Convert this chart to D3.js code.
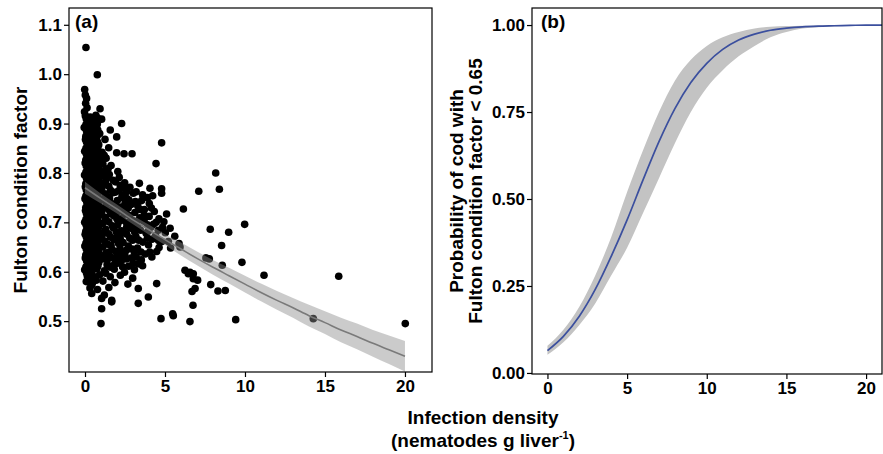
<!DOCTYPE html>
<html>
<head>
<meta charset="utf-8">
<script src="https://cdn.jsdelivr.net/npm/d3@7"></script>
<style>
  body { margin: 0; background: #fff; }
  svg { display: block; font-family: "Liberation Sans", Arial, sans-serif; font-weight: bold; }
</style>
</head>
<body>
<svg id="chart" width="883" height="454"></svg>
<script>
// Fish: [infection density, Fulton condition factor]
const fish = [
  [0.06,1.054],[0.77,0.999],[-0.02,0.969],[0.02,0.958],[0.1,0.951],[0.04,0.941],[0.13,0.932],[0.94,0.930],[-0.03,0.924],
  [0.02,0.916],[0.33,0.913],[0.68,0.917],[1.04,0.909],
  [0.16,0.904],[0.52,0.901],[0.83,0.906],[2.29,0.900],
  [-0.05,0.892],[0.37,0.889],[0.72,0.893],[1.58,0.887],
  [0.14,0.881],[0.49,0.877],[0.92,0.880],
  [0.03,0.868],[0.33,0.865],[0.69,0.870],[1.25,0.868],[1.98,0.873],[4.79,0.861],
  [0.17,0.856],[0.52,0.853],[0.86,0.857],[1.48,0.851],
  [-0.02,0.844],[0.36,0.841],[0.71,0.846],[1.07,0.842],[1.98,0.841],[2.44,0.839],[2.94,0.839],
  [0.15,0.832],[0.48,0.829],[0.84,0.834],[1.32,0.830],
  [0.01,0.820],[0.34,0.817],[0.72,0.822],[1.12,0.818],[1.63,0.815],[4.44,0.819],
  [0.18,0.808],[0.51,0.805],[0.87,0.810],[1.28,0.806],[2.05,0.803],[8.17,0.800],
  [-0.03,0.796],[0.35,0.793],[0.69,0.798],[1.04,0.794],[1.52,0.797],[2.14,0.791],
  [0.14,0.784],[0.49,0.781],[0.86,0.786],[1.27,0.782],[1.76,0.785],[2.48,0.780],[3.40,0.779],
  [0.02,0.772],[0.37,0.769],[0.7,0.774],[1.06,0.770],[1.49,0.773],[2.81,0.771],[4.06,0.769],[4.79,0.768],[7.11,0.763],[8.40,0.767],
  [0.16,0.760],[0.5,0.757],[0.83,0.762],[1.24,0.758],[1.88,0.761],[2.33,0.756],[3.02,0.759],[4.23,0.754],[4.79,0.759],
  [0.0,0.748],[0.34,0.745],[0.71,0.750],[1.09,0.746],[1.53,0.749],[2.02,0.744],[2.62,0.748],[3.54,0.744],
  [0.15,0.736],[0.52,0.733],[0.85,0.738],[1.31,0.734],[1.74,0.737],[2.24,0.731],[2.88,0.736],[3.3,0.733],[4.02,0.738],
  [0.03,0.724],[0.36,0.721],[0.68,0.726],[1.05,0.722],[1.51,0.725],[1.97,0.719],[2.52,0.724],[3.12,0.720],[3.71,0.726],[4.33,0.722],[6.15,0.727],
  [0.17,0.712],[0.49,0.709],[0.86,0.714],[1.26,0.710],[1.82,0.713],[2.31,0.708],[2.79,0.714],[3.42,0.709],[4.01,0.712],[4.62,0.707],[5.10,0.717],
  [-0.02,0.700],[0.35,0.697],[0.72,0.702],[1.11,0.698],[1.49,0.701],[2.04,0.695],[2.58,0.700],[3.14,0.697],[3.69,0.702],[4.28,0.696],[4.93,0.701],[7.83,0.686],[8.98,0.680],[9.98,0.696],
  [0.14,0.688],[0.51,0.685],[0.84,0.690],[1.29,0.686],[1.77,0.689],[2.27,0.683],[2.83,0.688],[3.47,0.684],[4.12,0.690],[4.58,0.684],[5.32,0.688],
  [0.01,0.676],[0.33,0.673],[0.7,0.678],[1.07,0.674],[1.48,0.677],[2.02,0.671],[2.61,0.676],[3.18,0.672],[3.82,0.678],[4.41,0.673],[5.02,0.679],[5.61,0.672],
  [0.16,0.664],[0.48,0.661],[0.87,0.666],[1.23,0.662],[1.81,0.665],[2.38,0.659],[2.97,0.664],[3.62,0.660],[4.19,0.666],[5.21,0.661],[5.88,0.657],[8.54,0.653],
  [-0.01,0.652],[0.37,0.649],[0.69,0.654],[1.12,0.650],[1.63,0.653],[2.19,0.647],[2.71,0.652],[3.28,0.648],[3.97,0.654],[4.63,0.649],[5.35,0.648],[5.94,0.650],
  [0.15,0.640],[0.52,0.637],[0.85,0.642],[1.31,0.638],[1.92,0.641],[2.49,0.635],[3.08,0.640],[3.77,0.636],[4.48,0.641],
  [0.02,0.628],[0.34,0.625],[0.71,0.630],[1.09,0.626],[1.62,0.629],[2.28,0.623],[2.91,0.628],[3.52,0.624],[4.18,0.630],[7.56,0.628],[7.77,0.626],
  [0.17,0.616],[0.5,0.613],[0.86,0.618],[1.38,0.614],[2.01,0.617],[2.72,0.611],[3.31,0.616],[8.58,0.613],[9.81,0.619],
  [-0.02,0.604],[0.36,0.601],[0.73,0.606],[1.21,0.602],[1.83,0.605],[2.47,0.599],[3.09,0.604],[6.25,0.603],[6.46,0.596],[6.77,0.596],[6.56,0.599],[11.19,0.593],[15.86,0.591],
  [0.14,0.592],[0.52,0.589],[0.91,0.594],[1.58,0.590],[2.21,0.593],[2.98,0.587],[6.77,0.586],[7.04,0.583],
  [0.08,0.580],[0.46,0.577],[1.12,0.581],[1.87,0.578],[2.68,0.575],[4.48,0.576],[7.86,0.574],[0.42,0.573],
  [0.31,0.567],[0.78,0.564],[1.49,0.568],[3.33,0.566],[6.88,0.566],[6.69,0.560],[8.31,0.561],[8.77,0.562],
  [0.42,0.556],[1.21,0.553],[3.96,0.549],[1.04,0.546],[1.67,0.542],[3.33,0.536],[1.67,0.539],[6.75,0.532],[1.04,0.525],
  [5.48,0.515],[5.52,0.511],[4.75,0.505],[1.0,0.495],[6.56,0.499],[9.42,0.503],[14.27,0.505],[20.02,0.495],
  // second pass over the dense low-infection cloud
  [0.08,0.910],[0.45,0.907],[0.79,0.911],
  [0.06,0.898],[0.41,0.895],[0.77,0.899],
  [0.09,0.886],[0.44,0.883],[0.8,0.887],
  [0.05,0.874],[0.4,0.871],[0.76,0.875],
  [0.1,0.862],[0.43,0.859],[0.78,0.863],
  [0.06,0.850],[0.41,0.847],[0.8,0.851],
  [0.09,0.838],[0.44,0.835],[0.77,0.839],[1.2,0.836],
  [0.05,0.826],[0.42,0.823],[0.79,0.827],[1.05,0.825],
  [0.08,0.814],[0.45,0.811],[0.81,0.815],[1.45,0.809],
  [0.06,0.802],[0.4,0.799],[0.76,0.803],[1.15,0.800],
  [0.09,0.790],[0.43,0.787],[0.78,0.791],[1.35,0.789],[1.9,0.782],
  [0.05,0.778],[0.41,0.775],[0.8,0.779],[1.15,0.776],[2.2,0.775],
  [0.08,0.766],[0.44,0.763],[0.77,0.767],[1.6,0.765],[2.6,0.762],
  [0.06,0.754],[0.42,0.751],[0.79,0.755],[1.38,0.752],[2.3,0.750],
  [0.1,0.742],[0.45,0.739],[0.81,0.743],[1.55,0.741],[2.5,0.738],
  [0.05,0.730],[0.4,0.727],[0.78,0.731],[1.2,0.729],[2.0,0.731],[2.7,0.729],
  [0.09,0.718],[0.43,0.715],[0.76,0.719],[1.6,0.717],[2.6,0.717],[3.7,0.715],
  [0.06,0.706],[0.41,0.703],[0.8,0.707],[1.3,0.705],[2.2,0.703],[3.3,0.703],
  [0.08,0.694],[0.44,0.691],[0.78,0.695],[1.7,0.693],[2.9,0.692],[3.9,0.695],
  [0.05,0.682],[0.42,0.679],[0.79,0.683],[1.2,0.681],[2.4,0.679],[3.1,0.681],
  [0.09,0.670],[0.45,0.667],[0.77,0.671],[1.6,0.670],[2.8,0.668],[4.6,0.663],
  [0.06,0.658],[0.41,0.655],[0.8,0.659],[1.4,0.656],[2.1,0.657],
  [0.08,0.646],[0.43,0.643],[0.78,0.647],[1.7,0.645],[2.6,0.644],
  [0.05,0.634],[0.4,0.631],[0.79,0.635],[1.2,0.633],[2.0,0.632],
  [0.1,0.622],[0.44,0.619],[0.77,0.623],[1.9,0.621],
  [0.06,0.610],[0.42,0.607],[0.8,0.611],[1.6,0.609],
  [0.09,0.598],[0.45,0.595],[1.3,0.597],
  [0.25,0.586],[0.7,0.583],
  // fill between 1.5 and 5 nematodes per gram
  [1.75,0.760],[2.1,0.764],[2.45,0.770],[3.2,0.762],[3.6,0.756],[2.75,0.745],[3.15,0.742],[3.9,0.750],
  [1.85,0.726],[2.35,0.722],[3.45,0.726],[4.15,0.729],[2.0,0.707],[2.95,0.704],[3.7,0.708],[4.45,0.700],
  [1.95,0.681],[2.6,0.690],[3.3,0.690],[3.95,0.682],[4.85,0.690],[2.2,0.668],[3.35,0.664],[3.9,0.668],
  [4.8,0.661],[1.5,0.640],[2.25,0.637],[2.95,0.646],[3.5,0.640],[4.05,0.640],[1.4,0.625],[2.6,0.626],
  [3.2,0.630],[1.7,0.612],[2.35,0.610],[3.0,0.617],[3.6,0.612]
];

// Fitted condition curve and its confidence band, panel (a)
const fitX = [0,1,2,3,4,5,6,7,8,9,10,11,12,13,14,15,16,17,18,19,20];
const fitCond = [0.770,0.748,0.727,0.705,0.685,0.665,0.646,0.627,0.609,0.592,0.575,0.558,0.542,0.527,0.511,0.497,0.482,0.469,0.455,0.442,0.429];
const fitLow = [0.758,0.738,0.718,0.696,0.675,0.654,0.633,0.613,0.594,0.576,0.558,0.540,0.523,0.507,0.489,0.474,0.457,0.443,0.428,0.413,0.398];
const fitHigh = [0.782,0.758,0.736,0.714,0.695,0.676,0.659,0.641,0.624,0.608,0.592,0.576,0.561,0.547,0.533,0.520,0.507,0.495,0.482,0.471,0.460];

// Probability of low condition, panel (b)
const probX = [0,1,2,3,4,5,6,7,8,9,10,11,12,13,14,15,16,17,18,19,20,21];
const prob = [0.064,0.105,0.163,0.240,0.335,0.440,0.555,0.665,0.760,0.835,0.890,0.930,0.957,0.974,0.985,0.991,0.995,0.997,0.998,0.999,1.000,1.000];
const probLow = [0.052,0.088,0.138,0.200,0.280,0.360,0.460,0.560,0.660,0.750,0.820,0.870,0.910,0.940,0.965,0.980,0.990,0.994,0.996,0.998,0.999,1.000];
const probHigh = [0.078,0.124,0.190,0.280,0.390,0.520,0.640,0.750,0.840,0.900,0.940,0.965,0.980,0.990,0.995,0.997,0.998,0.999,1.000,1.000,1.000,1.000];

const condTicks = [0.5, 0.6, 0.7, 0.8, 0.9, 1.0, 1.1];
const probTicks = [0, 0.25, 0.5, 0.75, 1];
const densTicks = [0, 5, 10, 15, 20];

const svg = d3.select("#chart");

// Style an axis group the way the figure does
const styleAxis = (g) => {
  g.select(".domain").remove();
  g.selectAll(".tick line").attr("stroke", "#000").attr("stroke-width", 1.2);
  g.selectAll(".tick text")
    .attr("fill", "#000")
    .attr("font-size", 17)
    .attr("font-family", null)
    .attr("font-weight", "bold");
};

// ---- Panel (a) ----
const a = { left: 69, right: 432, top: 8, bottom: 372 };
const xa = d3.scaleLinear().domain([-1, 21.69]).range([a.left, a.right]);
const ya = d3.scaleLinear().domain([0.397, 1.134]).range([a.bottom, a.top]);

svg.append("clipPath").attr("id", "clipA")
  .append("rect")
  .attr("x", a.left).attr("y", a.top)
  .attr("width", a.right - a.left).attr("height", a.bottom - a.top);

const gA = svg.append("g").attr("clip-path", "url(#clipA)");

gA.selectAll("circle")
  .data(fish)
  .join("circle")
  .attr("cx", (d) => xa(d[0]))
  .attr("cy", (d) => ya(d[1]))
  .attr("r", 3.8)
  .attr("fill", "#000");

const bandA = d3.area()
  .x((d, i) => xa(fitX[i]))
  .y0((d, i) => ya(fitLow[i]))
  .y1((d, i) => ya(fitHigh[i]))
  .curve(d3.curveMonotoneX);

gA.append("path")
  .attr("d", bandA(fitX))
  .attr("fill", "#8c8c8c")
  .attr("fill-opacity", 0.45);

const lineA = d3.line()
  .x((d, i) => xa(fitX[i]))
  .y((d, i) => ya(fitCond[i]))
  .curve(d3.curveMonotoneX);

gA.append("path")
  .attr("d", lineA(fitX))
  .attr("fill", "none")
  .attr("stroke", "#7a7a7a")
  .attr("stroke-width", 1.6);

svg.append("rect")
  .attr("x", a.left).attr("y", a.top)
  .attr("width", a.right - a.left).attr("height", a.bottom - a.top)
  .attr("fill", "none").attr("stroke", "#000").attr("stroke-width", 1.2);

svg.append("g")
  .attr("transform", `translate(${a.left},0)`)
  .call(d3.axisLeft(ya).tickValues(condTicks).tickFormat(d3.format(".1f")).tickSize(5).tickPadding(2))
  .call(styleAxis);

svg.append("g")
  .attr("transform", `translate(0,${a.bottom})`)
  .call(d3.axisBottom(xa).tickValues(densTicks).tickFormat(d3.format("d")).tickSize(5).tickPadding(3))
  .call(styleAxis);

svg.append("text")
  .attr("transform", `translate(27,${(a.top + a.bottom) / 2}) rotate(-90)`)
  .attr("text-anchor", "middle")
  .attr("font-size", 19)
  .text("Fulton condition factor");

svg.append("text")
  .attr("x", 75).attr("y", 28)
  .attr("font-size", 19)
  .text("(a)");

// ---- Panel (b) ----
const b = { left: 532, right: 882, top: 8, bottom: 374 };
const xb = d3.scaleLinear().domain([-0.97, 21.0]).range([b.left, b.right]);
const yb = d3.scaleLinear().domain([-0.003, 1.049]).range([b.bottom, b.top]);

const bandB = d3.area()
  .x((d, i) => xb(probX[i]))
  .y0((d, i) => yb(probLow[i]))
  .y1((d, i) => yb(probHigh[i]))
  .curve(d3.curveMonotoneX);

svg.append("path")
  .attr("d", bandB(probX))
  .attr("fill", "#c3c3c3");

const lineB = d3.line()
  .x((d, i) => xb(probX[i]))
  .y((d, i) => yb(prob[i]))
  .curve(d3.curveMonotoneX);

svg.append("path")
  .attr("d", lineB(probX))
  .attr("fill", "none")
  .attr("stroke", "#3b4f9e")
  .attr("stroke-width", 1.7);

svg.append("rect")
  .attr("x", b.left).attr("y", b.top)
  .attr("width", b.right - b.left).attr("height", b.bottom - b.top)
  .attr("fill", "none").attr("stroke", "#000").attr("stroke-width", 1.2);

svg.append("g")
  .attr("transform", `translate(${b.left},0)`)
  .call(d3.axisLeft(yb).tickValues(probTicks).tickFormat(d3.format(".2f")).tickSize(5).tickPadding(2))
  .call(styleAxis);

svg.append("g")
  .attr("transform", `translate(0,${b.bottom})`)
  .call(d3.axisBottom(xb).tickValues(densTicks).tickFormat(d3.format("d")).tickSize(5).tickPadding(3))
  .call(styleAxis);

const midB = (b.top + b.bottom) / 2;
svg.append("text")
  .attr("transform", `translate(463,${midB}) rotate(-90)`)
  .attr("text-anchor", "middle")
  .attr("font-size", 19)
  .text("Probability of cod with");

svg.append("text")
  .attr("transform", `translate(482,${midB}) rotate(-90)`)
  .attr("text-anchor", "middle")
  .attr("font-size", 19)
  .text("Fulton condition factor < 0.65");

svg.append("text")
  .attr("x", 541).attr("y", 28)
  .attr("font-size", 19)
  .text("(b)");

// ---- Shared x title ----
svg.append("text")
  .attr("x", 483).attr("y", 424)
  .attr("text-anchor", "middle")
  .attr("font-size", 19)
  .text("Infection density");

const sub = svg.append("text")
  .attr("x", 483).attr("y", 447)
  .attr("text-anchor", "middle")
  .attr("font-size", 19);
sub.append("tspan").text("(nematodes g liver");
sub.append("tspan").attr("font-size", 11).attr("dy", -8).text("-1");
sub.append("tspan").attr("dy", 8).text(")");
</script>
</body>
</html>
